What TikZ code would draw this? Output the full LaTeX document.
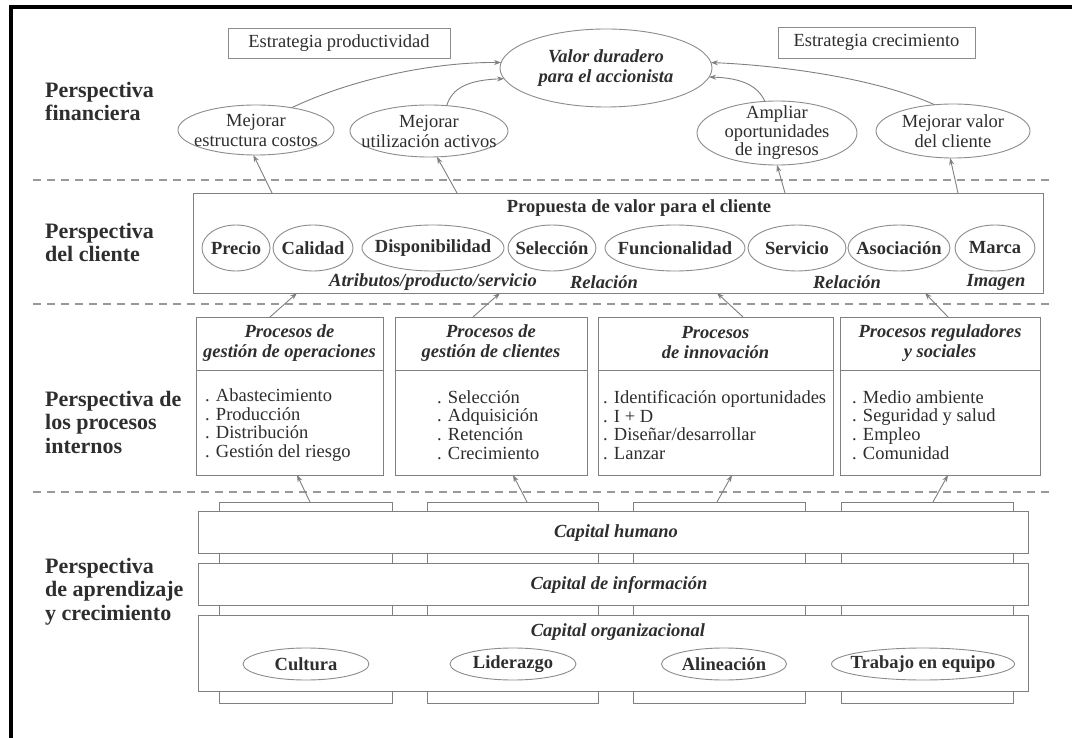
\documentclass[tikz,border=0pt]{standalone}
\usepackage{fontspec}
\setmainfont{Liberation Serif}
\usetikzlibrary{shapes.geometric,arrows.meta}
\definecolor{ink}{gray}{0.18}
\definecolor{linec}{gray}{0.5}
\definecolor{ovalc}{gray}{0.55}
\definecolor{dashc}{gray}{0.6}
\tikzset{
  txt/.style={font=\fontsize{18.5}{20}\selectfont, text=ink},
  btxt/.style={font=\fontsize{18.5}{20}\selectfont\bfseries, text=ink},
  bitxt/.style={font=\fontsize{18.5}{20}\selectfont\bfseries\itshape, text=ink},
  persp/.style={font=\fontsize{22}{23.5}\selectfont\bfseries, text=ink, align=left, anchor=west, inner sep=0pt},
  oval/.style 2 args={ellipse, draw=ovalc, line width=0.9pt, minimum width=#1, minimum height=#2, inner sep=0pt, outer sep=0pt},
  panel/.style={draw=linec, line width=0.9pt, fill=white, inner sep=0pt, outer sep=0pt},
  tagbox/.style={draw=ovalc, line width=0.9pt, inner sep=0pt, outer sep=0pt},
  arr/.style={draw=linec, line width=0.9pt, -{Stealth[length=7pt,width=5pt]}},
  sepline/.style={draw=dashc, line width=1.2pt, dash pattern=on 8pt off 6pt},
  items/.style={font=\fontsize{18.5}{18.7}\selectfont, text=ink, align=left, anchor=west, inner sep=0pt},
}
\begin{document}
\begin{tikzpicture}[x=1pt,y=-1pt]
\useasboundingbox (0,0) rectangle (1072,738);
\fill[white] (0,0) rectangle (1072,738);

% outer frame (top and left edges)
\draw[black, line width=4pt] (11,738) -- (11,7) -- (1072,7);

% perspective separators
\draw[sepline] (33,180) -- (1050,180);
\draw[sepline] (33,304) -- (1050,304);
\draw[sepline] (33,492) -- (1050,492);

% perspective titles
\node[persp] (pfin) at (45,101.5) {Perspectiva\\financiera};
\node[persp] (pcli) at (45,242.5) {Perspectiva\\del cliente};
\node[persp] (ppro) at (45,422) {Perspectiva de\\los procesos\\internos};
\node[persp] (papr) at (45,591.5) {Perspectiva\\de aprendizaje\\y crecimiento};

% ---------------- financial perspective
\node[tagbox, txt, minimum width=222pt, minimum height=30pt] (eprod) at (339,43) {Estrategia productividad};
\node[tagbox, txt, minimum width=197pt, minimum height=31pt] (ecrec) at (876.5,42.5) {Estrategia crecimiento};
\node[oval={212pt}{78pt}, label={[bitxt,align=center]center:Valor duradero\\para el accionista}] (valor) at (606,68) {};
\node[oval={156pt}{50pt}, label={[txt,align=center]center:Mejorar\\estructura costos}] (costos) at (256,130) {};
\node[oval={158pt}{52pt}, label={[txt,align=center]center:Mejorar\\utilización activos}] (activos) at (429,131) {};
\node[oval={160pt}{64pt}, label={[txt,align=center,font=\fontsize{18.5}{18.5}\selectfont]center:Ampliar\\oportunidades\\de ingresos}] (ingresos) at (777,133) {};
\node[oval={154pt}{54pt}, label={[txt,align=center]center:Mejorar valor\\del cliente}] (mvc) at (953,131) {};

\draw[arr] (costos.32) .. controls (350,80) and (430,62) .. (valor.177);
\draw[arr] (activos.55) .. controls (452,88) and (468,80) .. (valor.186);
\draw[arr] (ingresos.111) .. controls (758,86) and (742,78) .. (valor.-5);
\draw[arr] (mvc.125) .. controls (880,80) and (790,66) .. (valor.3);

% ---------------- customer perspective
\node[panel, minimum width=850pt, minimum height=100pt] (cbox) at (618,243) {};
\node[btxt] (ctitle) at (639,208) {Propuesta de valor para el cliente};
\node[oval={68pt}{46pt}, label={[btxt]center:Precio}] (precio) at (236,248) {};
\node[oval={80pt}{46pt}, label={[btxt]center:Calidad}] (calidad) at (313,248) {};
\node[oval={142pt}{46pt}, label={[btxt]center:Disponibilidad}] (dispon) at (433,248) {};
\node[oval={88pt}{46pt}, label={[btxt]center:Selección}] (selec) at (552,248) {};
\node[oval={140pt}{46pt}, label={[btxt]center:Funcionalidad}] (funcion) at (675,248) {};
\node[oval={98pt}{46pt}, label={[btxt]center:Servicio}] (servicio) at (797,248) {};
\node[oval={102pt}{46pt}, label={[btxt]center:Asociación}] (asoc) at (899,248) {};
\node[oval={80pt}{46pt}, label={[btxt]center:Marca}] (marca) at (995,248) {};
\node[bitxt] (atrib) at (433,282) {Atributos/producto/servicio};
\node[bitxt] (rel1) at (604,282) {Relación};
\node[bitxt] (rel2) at (847,282) {Relación};
\node[bitxt] (imagen) at (996,282) {Imagen};

\draw[arr] ([xshift=-346pt]cbox.north) -- (costos.-96);
\draw[arr] ([xshift=-161pt]cbox.north) -- (activos.-73);
\draw[arr] ([xshift=167pt]cbox.north) -- (ingresos.-90);
\draw[arr] ([xshift=340pt]cbox.north) -- (mvc.-96);

% ---------------- internal process perspective
\node[panel, minimum width=187pt, minimum height=158pt] (proc1) at (289.5,396) {};
\node[panel, minimum width=192pt, minimum height=158pt] (proc2) at (491,396) {};
\node[panel, minimum width=235pt, minimum height=158pt] (proc3) at (715.5,396) {};
\node[panel, minimum width=200pt, minimum height=158pt] (proc4) at (940,396) {};
\foreach \p in {proc1,proc2,proc3,proc4}
  \draw[linec, line width=0.9pt] ([yshift=-53pt]\p.north west) -- ([yshift=-53pt]\p.north east);

\node[bitxt, align=center] (h1) at (289.5,343) {Procesos de\\gestión de operaciones};
\node[bitxt, align=center] (h2) at (491,343) {Procesos de\\gestión de clientes};
\node[bitxt, align=center] (h3) at (715.5,343) {Procesos\\de innovación};
\node[bitxt, align=center] (h4) at (940,343) {Procesos reguladores\\y sociales};

\node[items] (l1) at (205,425) {. Abastecimiento\\. Producción\\. Distribución\\. Gestión del riesgo};
\node[items] (l2) at (437,425) {. Selección\\. Adquisición\\. Retención\\. Crecimiento};
\node[items] (l3) at (603,425) {. Identificación oportunidades\\. I + D\\. Diseñar/desarrollar\\. Lanzar};
\node[items] (l4) at (852,425) {. Medio ambiente\\. Seguridad y salud\\. Empleo\\. Comunidad};

\draw[arr] ([xshift=-19.5pt]proc1.north) -- ([xshift=-321pt]cbox.south);
\draw[arr] ([xshift=-18pt]proc2.north) -- ([xshift=-118pt]cbox.south);
\draw[arr] ([xshift=27.5pt]proc3.north) -- ([xshift=99pt]cbox.south);
\draw[arr] ([xshift=8pt]proc4.north) -- ([xshift=307pt]cbox.south);

% ---------------- learning and growth perspective
% pillars standing behind the capital bands
\node[panel, minimum width=173pt, minimum height=201pt] (pil1) at (305.5,602.5) {};
\node[panel, minimum width=171pt, minimum height=201pt] (pil2) at (512.5,602.5) {};
\node[panel, minimum width=172pt, minimum height=201pt] (pil3) at (719,602.5) {};
\node[panel, minimum width=172pt, minimum height=201pt] (pil4) at (927,602.5) {};

\node[panel, minimum width=830pt, minimum height=42pt] (band1) at (613,532) {};
\node[panel, minimum width=830pt, minimum height=42pt] (band2) at (613,584) {};
\node[panel, minimum width=830pt, minimum height=76pt] (band3) at (613,653) {};

\node[bitxt] (capH) at (616,533) {Capital humano};
\node[bitxt] (capI) at (619,585) {Capital de información};
\node[bitxt] (capO) at (618,632) {Capital organizacional};

\node[oval={126pt}{32pt}, label={[btxt]center:Cultura}] (cultura) at (306,664) {};
\node[oval={126pt}{32pt}, label={[btxt]center:Liderazgo}] (lider) at (513,664) {};
\node[oval={125pt}{32pt}, label={[btxt]center:Alineación}] (alin) at (724,664) {};
\node[oval={183pt}{32pt}, label={[btxt]center:Trabajo en equipo}] (equipo) at (923,664) {};

\draw[arr] ([xshift=4.5pt]pil1.north) -- ([xshift=7.5pt]proc1.south);
\draw[arr] ([xshift=14.5pt]pil2.north) -- ([xshift=22pt]proc2.south);
\draw[arr] ([xshift=-2pt]pil3.north) -- ([xshift=16.5pt]proc3.south);
\draw[arr] ([xshift=6pt]pil4.north) -- ([xshift=8pt]proc4.south);
\end{tikzpicture}
\end{document}
